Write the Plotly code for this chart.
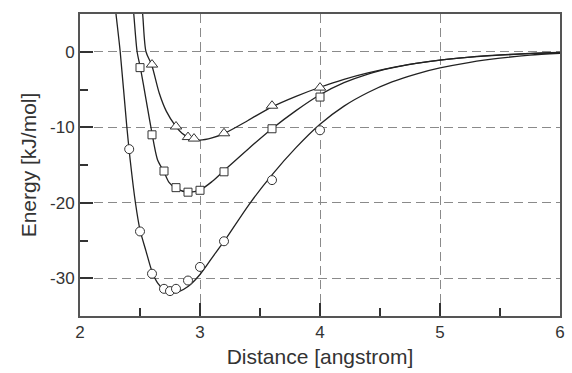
import plotly.graph_objects as go

# ---- marker data ----
circ_x = [2.41, 2.5, 2.6, 2.7, 2.75, 2.8, 2.9, 3.0, 3.2, 3.6, 4.0]
circ_y = [-12.9, -23.8, -29.4, -31.4, -31.7, -31.4, -30.3, -28.5, -25.1, -17.0, -10.4]

sq_x = [2.5, 2.6, 2.7, 2.8, 2.9, 3.0, 3.2, 3.6, 4.0]
sq_y = [-2.1, -11.0, -15.8, -18.0, -18.6, -18.35, -15.9, -10.2, -6.0]

tri_x = [2.6, 2.8, 2.9, 2.95, 3.2, 3.6, 4.0]
tri_y = [-1.7, -9.9, -11.3, -11.5, -10.8, -7.15, -4.75]

# ---- fitted curves ----
fit_a_x = [2.28, 2.30, 2.335, 2.39, 2.418, 2.462, 2.50, 2.55, 2.60, 2.646, 2.70, 2.76, 2.82,
           2.90, 3.00, 3.10, 3.21, 3.41, 3.60, 3.80, 4.00, 4.20, 4.40, 4.60, 4.80, 5.00,
           5.25, 5.50, 5.75, 6.00]
fit_a_y = [8.0, 5.0, 0.0, -9.9, -14.3, -20.0, -23.6, -26.4, -29.1, -30.6, -31.5, -31.9, -31.8,
           -31.1, -29.5, -27.3, -24.9, -20.2, -16.3, -12.7, -9.6, -7.2, -5.4, -4.0, -2.95, -2.15,
           -1.4, -0.85, -0.45, -0.2]

fit_b_x = [2.43, 2.448, 2.476, 2.503, 2.55, 2.591, 2.646, 2.70, 2.742, 2.80, 2.90, 3.00, 3.10,
           3.21, 3.40, 3.60, 3.80, 4.00, 4.20, 4.40, 4.60, 4.80, 5.00, 5.25, 5.50, 5.75, 6.00]
fit_b_y = [8.0, 5.0, 0.0, -2.1, -6.3, -10.0, -14.3, -15.9, -17.3, -18.1, -18.6, -18.3, -17.2,
           -15.6, -12.9, -10.2, -7.8, -5.7, -4.1, -2.95, -2.15, -1.55, -1.1, -0.72, -0.45, -0.26, -0.12]

fit_c_x = [2.50, 2.522, 2.55, 2.597, 2.66, 2.72, 2.797, 2.85, 2.90, 2.95, 3.00, 3.10, 3.204,
           3.40, 3.60, 3.80, 4.00, 4.20, 4.40, 4.60, 4.80, 5.00, 5.25, 5.50, 5.75, 6.00]
fit_c_y = [8.0, 5.0, 0.0, -1.72, -5.46, -7.9, -9.86, -10.8, -11.3, -11.6, -11.7, -11.4, -10.8,
           -9.1, -7.3, -5.9, -4.7, -3.65, -2.8, -2.1, -1.55, -1.1, -0.7, -0.42, -0.22, -0.1]

x_ticks = [2, 3, 4, 5, 6]
y_ticks = [-30, -20, -10, 0]

line_col = "#222222"
fig = go.Figure()
for fx, fy in [(fit_a_x, fit_a_y), (fit_b_x, fit_b_y), (fit_c_x, fit_c_y)]:
    fig.add_trace(go.Scatter(x=fx, y=fy, mode="lines",
                             line=dict(color=line_col, width=1.3, shape="spline", smoothing=0.8),
                             showlegend=False, hoverinfo="skip"))

mk_line = dict(color="#333333", width=1)
fig.add_trace(go.Scatter(x=circ_x, y=circ_y, mode="markers", showlegend=False,
                         marker=dict(symbol="circle", size=9, color="white", line=mk_line)))
fig.add_trace(go.Scatter(x=sq_x, y=sq_y, mode="markers", showlegend=False,
                         marker=dict(symbol="square", size=8, color="white", line=mk_line)))
fig.add_trace(go.Scatter(x=tri_x, y=tri_y, mode="markers", showlegend=False,
                         marker=dict(symbol="triangle-up", size=10, color="white", line=mk_line)))

font_fam = "Liberation Sans, Arial, sans-serif"
axis_common = dict(
    showline=True, linecolor="#555555", linewidth=2, mirror=True,
    ticks="inside", ticklen=13, tickwidth=1.5, tickcolor="#333333",
    showgrid=True, gridcolor="#8a8a8a", gridwidth=1, griddash="9px,5px",
    zeroline=False,
    tickfont=dict(family=font_fam, size=17, color="#333333"),
)

fig.update_xaxes(range=[2, 6], tickvals=x_ticks, ticktext=[str(v) for v in x_ticks],
                 minor=dict(ticks="inside", ticklen=8, tickwidth=1.5, tickcolor="#333333",
                            dtick=0.5, tick0=2, showgrid=False),
                 title=dict(text="Distance [angstrom]", font=dict(family=font_fam, size=21, color="#333333"),
                            standoff=8),
                 **axis_common)
fig.update_yaxes(range=[-35, 5], tickvals=y_ticks, ticktext=[str(v) for v in y_ticks],
                 minor=dict(ticks="inside", ticklen=8, tickwidth=1.5, tickcolor="#333333",
                            dtick=5, tick0=0, showgrid=False),
                 title=dict(text="Energy [kJ/mol]", font=dict(family=font_fam, size=21, color="#333333"),
                            standoff=8),
                 **axis_common)

fig.update_layout(width=572, height=373, margin=dict(l=80, r=7, t=14, b=57),
                  paper_bgcolor="white", plot_bgcolor="white")
fig.write_html("out.html")
